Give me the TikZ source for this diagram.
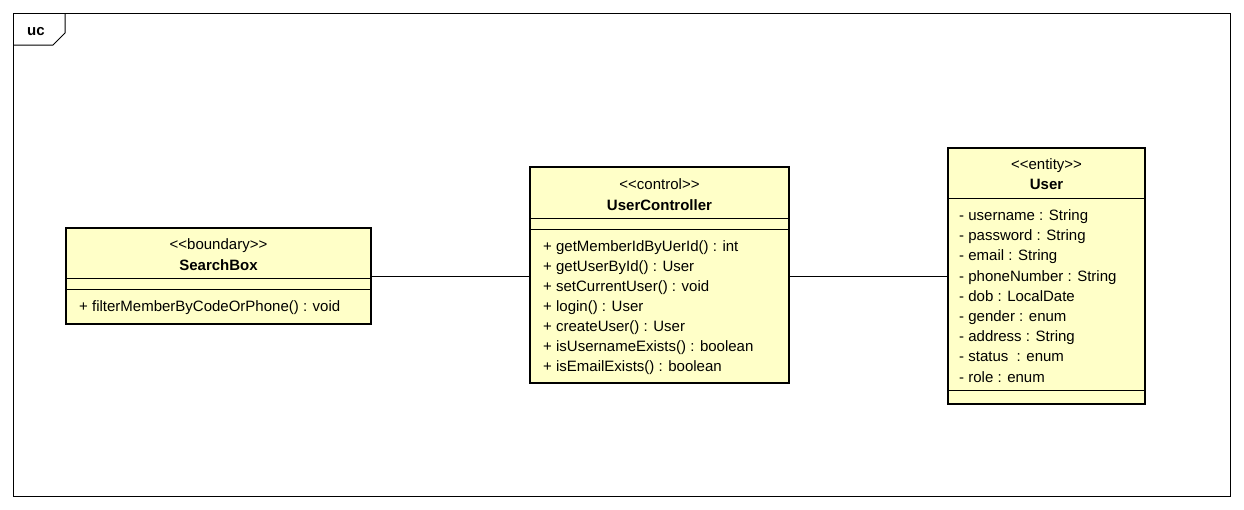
\documentclass[tikz,border=0pt]{standalone}
\usepackage{fontspec}
\setmainfont{Liberation Sans}
\definecolor{umlfill}{RGB}{255,255,200}
% stereotype brackets, kept apart so the font mapping leaves them as << and >>
\newcommand{\stL}{<\kern0pt<}
\newcommand{\stR}{>\kern0pt>}
\begin{document}
\begin{tikzpicture}[x=1pt,y=-1pt,
  classbox/.style={draw=black, line width=2.6pt, fill=umlfill, inner sep=0pt, outer sep=0pt},
  compline/.style={line width=0.9pt},
  txt/.style={inner sep=0pt, font=\fontsize{15}{17}\selectfont, text height=11pt, text depth=3pt},
  member/.style={txt, anchor=west},
  stereo/.style={txt},
  cname/.style={txt, font=\fontsize{15}{17}\selectfont\bfseries},
  assoc/.style={line width=0.9pt}]

% canvas and frame
\useasboundingbox (0,0) rectangle (1244,509);
\fill[white] (0,0) rectangle (1244,509);
\draw[line width=1pt] (13,13) rectangle (1230,496);
\draw[line width=1pt] (13,45) -- (53,45) -- (65,33) -- (65,13);
\node[txt, font=\fontsize{15}{17}\selectfont\bfseries] (frametag) at (36,31.5) {uc};

% boundary class
\node[classbox, minimum width=305pt, minimum height=96pt] (sb) at (218.5,276) {};
\draw[compline] (66,278) -- (371,278);
\draw[compline] (66,289) -- (371,289);
\node[stereo] (sbst) at (218.5,245.5) {\stL boundary\stR};
\node[cname] (sbnm) at (218.5,266) {SearchBox};
\node[member] (sbm1) at (79,307.5) {+ filterMemberByCodeOrPhone() : void};

% control class
\node[classbox, minimum width=259pt, minimum height=216pt] (ctl) at (659.5,275) {};
\draw[compline] (530,218) -- (789,218);
\draw[compline] (530,229) -- (789,229);
\node[stereo] (ctlst) at (659.5,185.5) {\stL control\stR};
\node[cname] (ctlnm) at (659.5,206) {UserController};
\foreach \t [count=\i from 0] in {%
  + getMemberIdByUerId() : int,
  + getUserById() : User,
  + setCurrentUser() : void,
  + login() : User,
  + createUser() : User,
  + isUsernameExists() : boolean,
  + isEmailExists() : boolean}
  \node[member] (ctlm\i) at (543,247.5+20*\i) {\t};

% entity class
\node[classbox, minimum width=197pt, minimum height=256pt] (usr) at (1046.5,276) {};
\draw[compline] (948,198) -- (1145,198);
\draw[compline] (948,390) -- (1145,390);
\node[stereo] (usrst) at (1046.5,165.5) {\stL entity\stR};
\node[cname] (usrnm) at (1046.5,185.5) {User};
\foreach \t [count=\i from 0] in {%
  - username : String,
  - password : String,
  - email : String,
  - phoneNumber : String,
  - dob : LocalDate,
  - gender : enum,
  - address : String,
  - status~ : enum,
  - role : enum}
  \node[member] (usra\i) at (959,216.5+20.2*\i) {\t};

% associations
\draw[assoc] (sb.east) -- (ctl.west |- sb.east);
\draw[assoc] (ctl.east |- usr.west) -- (usr.west);
\end{tikzpicture}
\end{document}
